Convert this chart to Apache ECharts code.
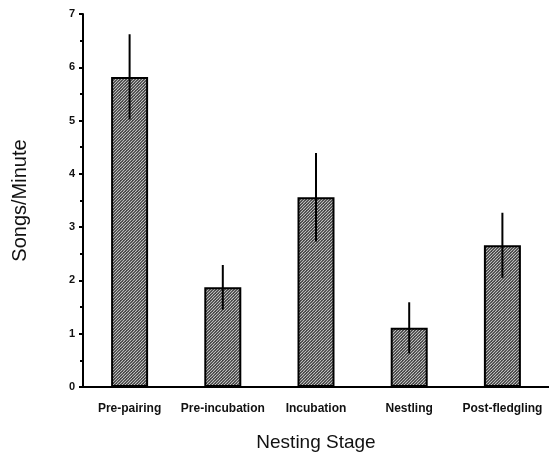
<!DOCTYPE html>
<html>
<head>
<meta charset="utf-8">
<script src="https://cdn.jsdelivr.net/npm/echarts@6/dist/echarts.min.js"></script>
<style>html,body{margin:0;padding:0;background:#fff;}#c{width:549px;height:453px;}</style>
</head>
<body>
<div id="c"></div>
<script>
var categories = ['Pre-pairing', 'Pre-incubation', 'Incubation', 'Nestling', 'Post-fledgling'];
var means = [5.82, 1.87, 3.56, 1.11, 2.66];
var errors = [0.80, 0.42, 0.83, 0.48, 0.61];
var yTicks = [0, 1, 2, 3, 4, 5, 6, 7];

function makePattern() {
  var c = document.createElement('canvas');
  c.width = 6; c.height = 6;
  var g = c.getContext('2d');
  g.fillStyle = '#262626';
  g.fillRect(0, 0, 6, 6);
  g.strokeStyle = '#c4c4c4';
  g.lineWidth = 1.2;
  for (var k = -6; k <= 12; k += 3) {
    g.beginPath();
    g.moveTo(k, 6);
    g.lineTo(k + 6, 0);
    g.stroke();
  }
  return c;
}

var chart = echarts.init(document.getElementById('c'));
var errData = means.map(function (m, i) { return [i, m - errors[i], m + errors[i]]; });

chart.setOption({
  animation: false,
  backgroundColor: '#fff',
  grid: { left: 83, right: 0, top: 14, bottom: 66, outerBoundsMode: 'none', containLabel: false },
  xAxis: {
    type: 'category',
    data: categories,
    name: 'Nesting Stage',
    nameLocation: 'middle',
    nameGap: 46,
    nameTextStyle: { fontFamily: 'Liberation Sans', fontSize: 19, color: '#111' },
    axisLine: { lineStyle: { color: '#000', width: 2 } },
    axisTick: { show: false },
    axisLabel: { interval: 0, hideOverlap: false, fontFamily: 'Liberation Sans', fontSize: 12, fontWeight: 'bold', color: '#111', margin: 16 }
  },
  yAxis: {
    type: 'value',
    min: 0, max: 7, interval: 1,
    name: 'Songs/Minute',
    nameLocation: 'middle',
    nameGap: 53,
    nameTextStyle: { fontFamily: 'Liberation Sans', fontSize: 20, color: '#111' },
    axisLine: { show: true, lineStyle: { color: '#000', width: 2 } },
    axisTick: { show: true, length: 4, lineStyle: { color: '#000', width: 2 } },
    minorTick: { show: true, splitNumber: 2, length: 3, lineStyle: { color: '#000', width: 2 } },
    splitLine: { show: false },
    axisLabel: {
      fontFamily: 'Liberation Sans', fontSize: 11, fontWeight: 'bold', color: '#111', margin: 8,
      formatter: function (v) { return yTicks.indexOf(v) >= 0 ? String(v) : ''; }
    }
  },
  series: [
    {
      type: 'bar',
      data: means,
      barWidth: 37,
      itemStyle: {
        color: { image: makePattern(), repeat: 'repeat' },
        borderColor: '#000',
        borderWidth: 2
      },
      z: 2
    },
    {
      type: 'custom',
      data: errData,
      z: 5,
      renderItem: function (params, api) {
        var x = api.value(0);
        var p1 = api.coord([x, api.value(1)]);
        var p2 = api.coord([x, api.value(2)]);
        return {
          type: 'line',
          shape: { x1: p1[0], y1: p1[1], x2: p2[0], y2: p2[1] },
          style: { stroke: '#000', lineWidth: 2 }
        };
      }
    }
  ]
});
</script>
</body>
</html>
